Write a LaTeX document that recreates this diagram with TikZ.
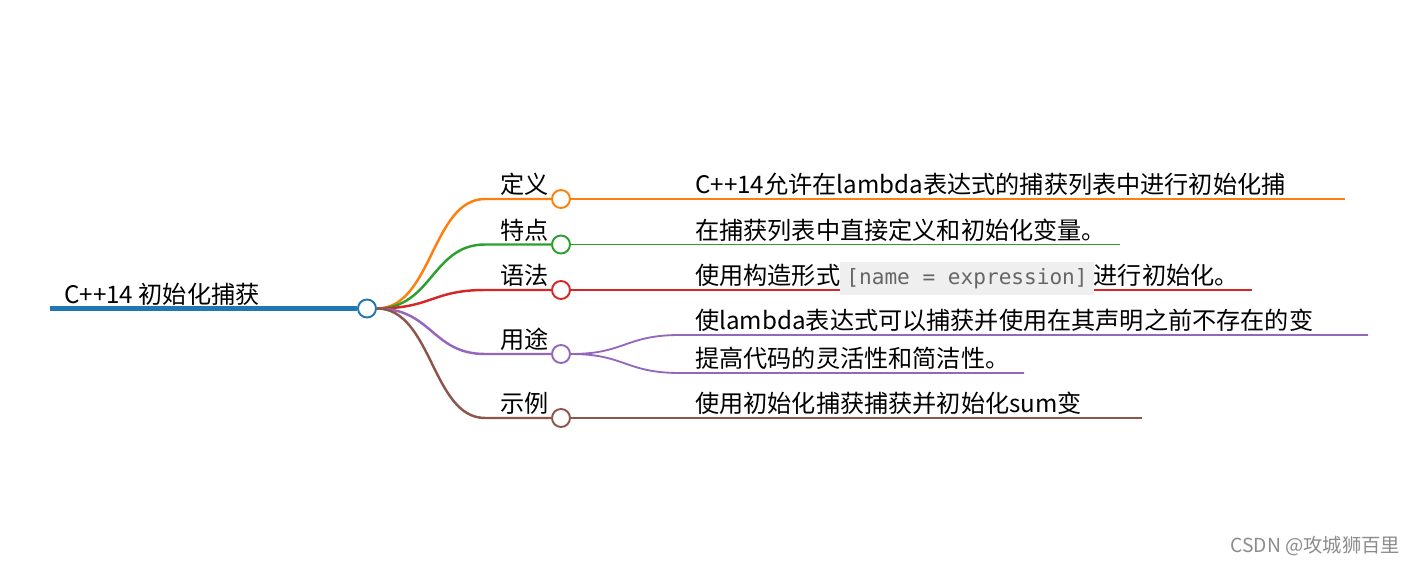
\documentclass[tikz,border=0pt]{standalone}
\usepackage{fontspec}
\setmainfont{Noto Sans CJK SC}
\setmonofont{DejaVu Sans Mono}
\usetikzlibrary{positioning}
\definecolor{mmBlue}{HTML}{1f77b4}
\definecolor{mmOrange}{HTML}{ff7f0e}
\definecolor{mmGreen}{HTML}{2ca02c}
\definecolor{mmRed}{HTML}{d62728}
\definecolor{mmPurple}{HTML}{9467bd}
\definecolor{mmBrown}{HTML}{8c564b}
\definecolor{codeBg}{HTML}{efefef}
\definecolor{codeGrey}{HTML}{666666}
\newcommand{\codefrag}[1]{{\setlength{\fboxsep}{3.5pt}\colorbox{codeBg}{\color{codeGrey}\fontsize{12}{14}\selectfont\ttfamily #1}}}
\tikzset{
  dot/.style={circle, draw=#1, fill=white, line width=1.1pt,
              minimum size=0.36cm, inner sep=0pt},
  rootline/.style={draw=mmBlue, line width=2.9pt},
  branch/.style={draw=#1, line width=1.4pt},
  leaf/.style={draw=#1, line width=1.05pt},
  lbl/.style={anchor=base west, inner sep=0pt, font=\fontsize{13.75}{16}\selectfont},
  wmark/.style={anchor=base west, inner sep=0pt, text=black!45,
              font=\fontsize{11}{13}\selectfont},
}
\begin{document}
\begin{tikzpicture}[x=0.02cm,y=-0.02cm]
        \useasboundingbox (0,0) rectangle (1416,564);
        % root
        \coordinate (r0) at (50,308.5);
        \node[dot=mmBlue] (rc) at (367,308.5) {};
        \draw[rootline] (r0) -- (rc);
        \node[lbl] (rt) at (64,303) {C++14 初始化捕获};
        % first level: curve, circle, label
        \foreach \n/\y/\c/\t in {c1/199/mmOrange/定义,c2/244.5/mmGreen/特点,
                                 c3/290/mmRed/语法,c4/354/mmPurple/用途,c5/418/mmBrown/示例}{
          \node[dot=\c] (\n) at (561,\y) {};
          \coordinate (\n s) at (485,\y);
          \draw[branch=\c] (rc.east) .. controls (432,308.5) and (432,\y) .. (\n s) -- (\n);
          \node[lbl] (\n t) at (500,\y-5.5) {\t};}
        % leaves
        \coordinate (e1) at (1345,199);
        \coordinate (e2) at (1120,244.5);
        \coordinate (e3) at (1252,290);
        \coordinate (e5) at (1142,418);
        \draw[leaf=mmOrange] (c1) -- (e1);
        \draw[leaf=mmGreen] (c2) -- (e2);
        \draw[leaf=mmRed] (c3) -- (e3);
        \draw[leaf=mmBrown] (c5) -- (e5);
        \node[lbl] (l1) at (695,193.5) {C++14允许在lambda表达式的捕获列表中进行初始化捕};
        \node[lbl] (l2) at (695,239) {在捕获列表中直接定义和初始化变量。};
        \node[lbl] (l3) at (695,284.5) {使用构造形式\codefrag{[name = expression]}进行初始化。};
        \node[lbl] (l5) at (695,412.5) {使用初始化捕获捕获并初始化sum变};
        % two children under the fourth branch
        \coordinate (u1) at (680,335);
        \coordinate (u1e) at (1368,335);
        \coordinate (u2) at (680,373);
        \coordinate (u2e) at (1024,373);
        \draw[leaf=mmPurple] (c4.east) .. controls (625,354) and (625,335) .. (u1) -- (u1e);
        \draw[leaf=mmPurple] (c4.east) .. controls (625,354) and (625,373) .. (u2) -- (u2e);
        \node[lbl] (l4a) at (695,329.5) {使lambda表达式可以捕获并使用在其声明之前不存在的变};
        \node[lbl] (l4b) at (695,367.5) {提高代码的灵活性和简洁性。};
        % watermark
        \node[wmark] (wm) at (1230,552) {CSDN @攻城狮百里};
      \end{tikzpicture}
\end{document}
